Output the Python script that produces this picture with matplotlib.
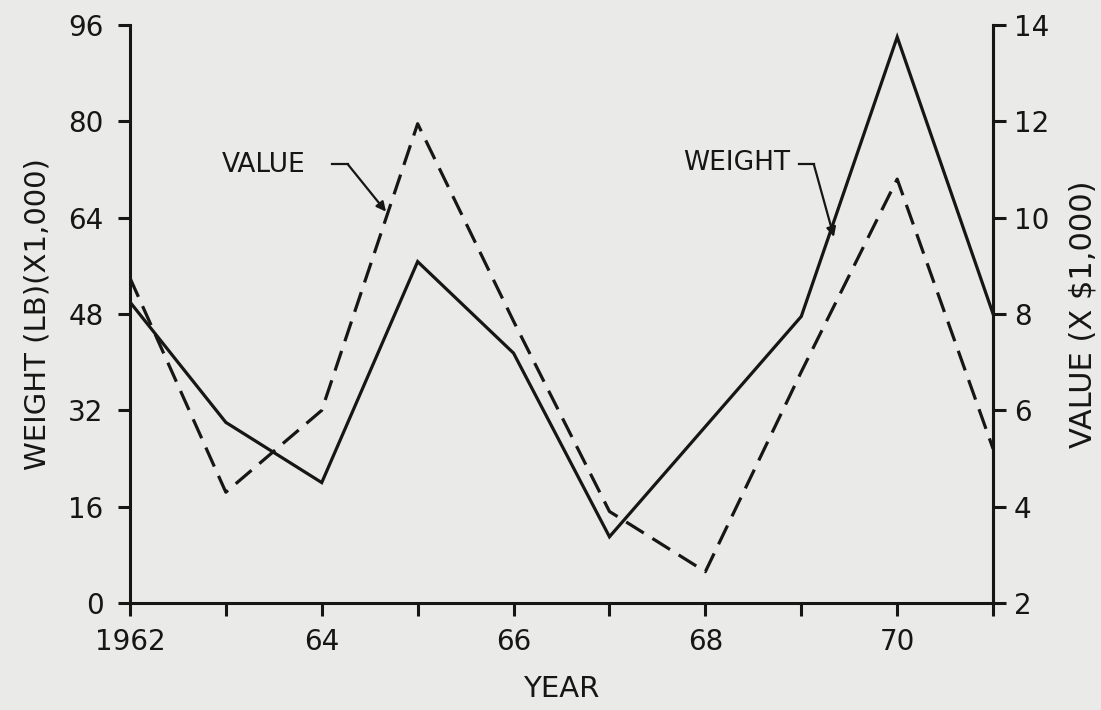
import matplotlib
matplotlib.use("Agg")
import matplotlib.pyplot as plt
from matplotlib.ticker import MultipleLocator

# data
years = [1962, 1963, 1964, 1965, 1966, 1967, 1968, 1969, 1970, 1971]
weight = [50, 30, 20, 56.7, 41.5, 11, 29.3, 47.6, 94, 48]        # lb x 1,000
value = [8.75, 4.3, 6.0, 11.95, 7.85, 3.9, 2.65, 6.8, 10.8, 5.2]  # $ x 1,000

weight_ticks = [0, 16, 32, 48, 64, 80, 96]
value_ticks = [2, 4, 6, 8, 10, 12, 14]
year_ticks = [1962, 1964, 1966, 1968, 1970]
year_labels = ["1962", "64", "66", "68", "70"]

ink = "#161616"
paper = "#eaeae9"
plt.rcParams["font.family"] = ["DejaVu Sans"]

fig = plt.figure(figsize=(11.01, 7.10), dpi=100, facecolor=paper)
ax = fig.add_axes([0.118, 0.1507, 0.784, 0.8141])
ax.set_facecolor(paper)
ax2 = ax.twinx()

ax.plot(years, weight, color=ink, lw=2.3, solid_joinstyle="miter")
ax2.plot(years, value, color=ink, lw=2.3, dashes=(6.5, 3.2))

ax.set_xlim(1962, 1971)
ax.set_ylim(0, 96)
ax2.set_ylim(2, 14)

ax.set_yticks(weight_ticks)
ax2.set_yticks(value_ticks)
ax.set_xticks(year_ticks)
ax.set_xticklabels(year_labels)
ax.xaxis.set_minor_locator(MultipleLocator(1))

for a in (ax, ax2):
    a.spines["top"].set_visible(False)
    for s in a.spines.values():
        s.set_linewidth(2.2)
        s.set_color(ink)
ax2.spines["left"].set_visible(False)
ax2.spines["bottom"].set_visible(False)

ax.tick_params(axis="y", direction="out", length=9, width=2.2,
               color=ink, labelsize=20, labelcolor=ink, pad=10)
ax.tick_params(axis="x", which="both", direction="out", length=9, width=2.2,
               color=ink, labelsize=20, labelcolor=ink, pad=9)
ax2.tick_params(axis="y", direction="out", length=9, width=2.2,
                color=ink, labelsize=20, labelcolor=ink, pad=6)

ax.set_xlabel("YEAR", fontsize=21, color=ink, labelpad=14)
ax.set_ylabel("WEIGHT (LB)(X1,000)", fontsize=21, color=ink, labelpad=12)
ax2.set_ylabel("VALUE (X $1,000)", fontsize=22, color=ink, labelpad=14)

# curve labels with leader arrows
ax.text(1962.96, 72.8, "VALUE", fontsize=19, color=ink, va="center", ha="left")
ax.plot([1964.11, 1964.27], [72.9, 72.9], color=ink, lw=1.6)
ax.annotate("", xy=(1964.67, 65.0), xytext=(1964.27, 72.9),
            arrowprops=dict(arrowstyle="-|>", color=ink, lw=1.6, mutation_scale=14,
                            shrinkA=0, shrinkB=0))

ax.text(1967.77, 73.1, "WEIGHT", fontsize=19, color=ink, va="center", ha="left")
ax.plot([1968.98, 1969.13], [72.9, 72.9], color=ink, lw=1.6)
ax.annotate("", xy=(1969.34, 60.8), xytext=(1969.13, 72.9),
            arrowprops=dict(arrowstyle="-|>", color=ink, lw=1.6, mutation_scale=14,
                            shrinkA=0, shrinkB=0))

fig.savefig("out.png", dpi=100, facecolor=paper)
